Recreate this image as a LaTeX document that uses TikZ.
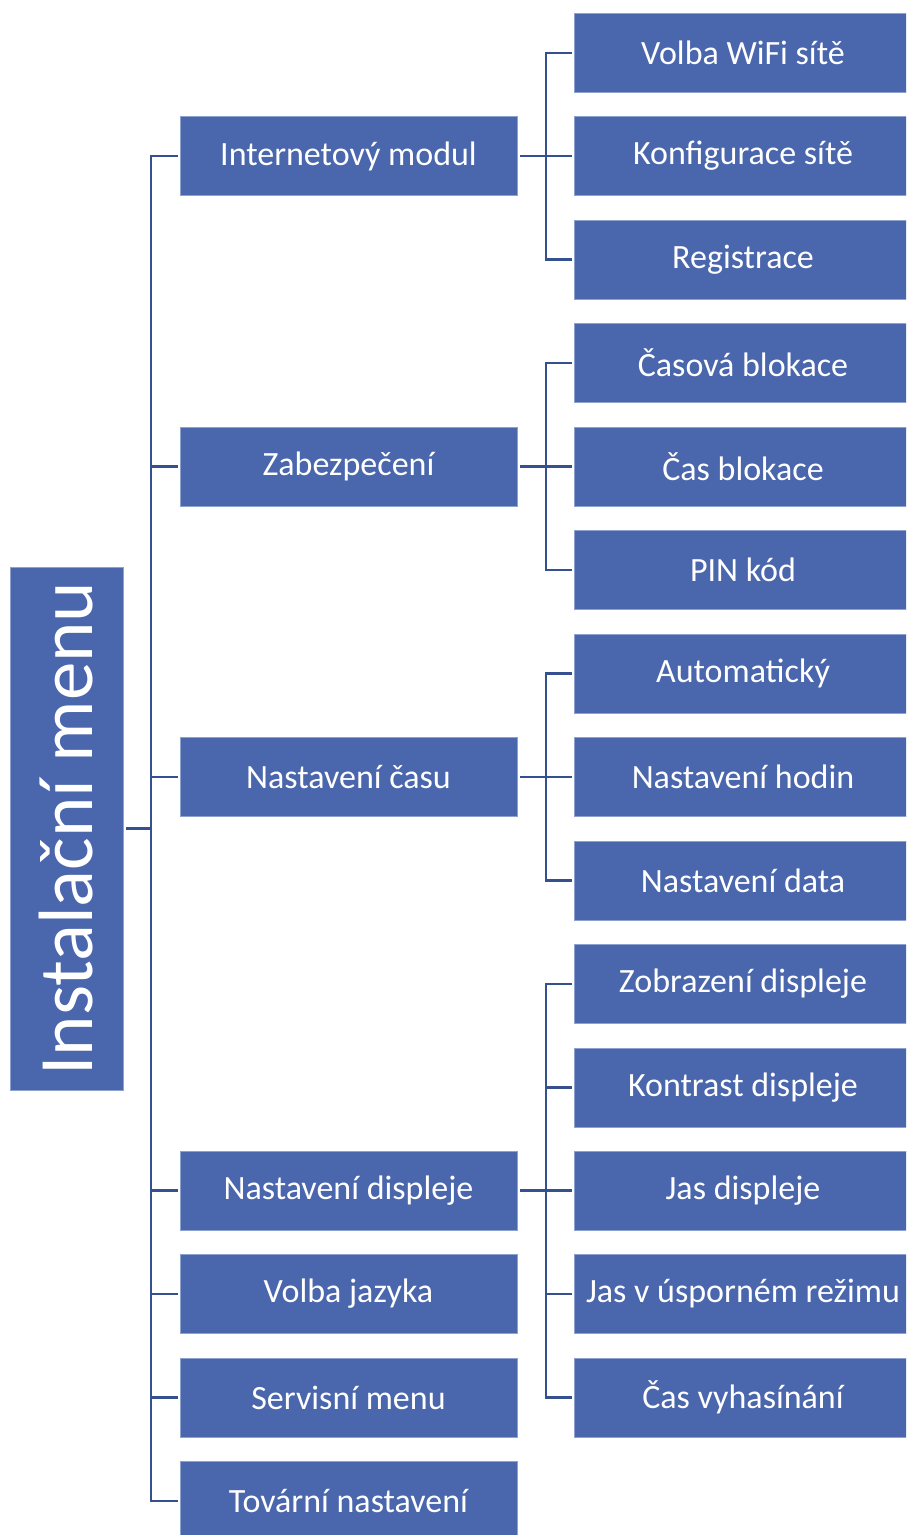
\documentclass[tikz,border=0pt]{standalone}
\usepackage{fontspec}
\setmainfont{Carlito}
\definecolor{boxblue}{HTML}{4A66AC}
\definecolor{lineblue}{HTML}{34508F}
\definecolor{edgeblue}{HTML}{8EA2CF}
\begin{document}
\begin{tikzpicture}[x=1pt,y=-1pt,
  box/.style={fill=boxblue,draw=edgeblue,line width=0.6pt,inner sep=0pt,
    minimum width=337pt,minimum height=79pt,text=white,
    font=\fontsize{34}{40}\selectfont},
  rootbox/.style={fill=boxblue,draw=edgeblue,line width=0.6pt,inner sep=0pt,
    minimum width=113pt,minimum height=523pt,text=white,
    font=\fontsize{77}{90}\selectfont},
  conn/.style={draw=lineblue,line width=2.2pt,shorten <=3pt,shorten >=2pt}]
\path[use as bounding box,clip] (0,0) rectangle (906,1535);
% root
\node[rootbox] (root) at (66.5,828.5) {\rotatebox{90}{Instalační menu}};
% level 1
\node[box] (im) at (348.5,156) {Internetový modul};
\node[box] (zb) at (348.5,466.5) {Zabezpečení};
\node[box] (nc) at (348.5,777) {Nastavení času};
\node[box] (nd) at (348.5,1190.5) {Nastavení displeje};
\node[box] (vj) at (348.5,1294) {Volba jazyka};
\node[box] (sm) at (348.5,1397.5) {Servisní menu};
\node[box] (tn) at (348.5,1501) {Tovární nastavení};
% level 2
\node[box] (a1) at (743,53) {Volba WiFi sítě};
\node[box] (a2) at (743,156) {Konfigurace sítě};
\node[box] (a3) at (743,259.5) {Registrace};
\node[box] (b1) at (743,363) {Časová blokace};
\node[box] (b2) at (743,466.5) {Čas blokace};
\node[box] (b3) at (743,570) {PIN kód};
\node[box] (c1) at (743,673.5) {Automatický};
\node[box] (c2) at (743,777) {Nastavení hodin};
\node[box] (c3) at (743,880.5) {Nastavení data};
\node[box] (d1) at (743,984) {Zobrazení displeje};
\node[box] (d2) at (743,1087.5) {Kontrast displeje};
\node[box] (d3) at (743,1190.5) {Jas displeje};
\node[box] (d4) at (743,1294) {Jas v úsporném režimu};
\node[box] (d5) at (743,1397.5) {Čas vyhasínání};
% connectors root -> level 1
\foreach \c in {im,zb,nc,nd,vj,sm,tn}
  \draw[conn] (root.east) -- ++(28,0) |- (\c.west);
% connectors level 1 -> level 2
\foreach \c in {a1,a2,a3}
  \draw[conn] (im.east) -- ++(29,0) |- (\c.west);
\foreach \c in {b1,b2,b3}
  \draw[conn] (zb.east) -- ++(29,0) |- (\c.west);
\foreach \c in {c1,c2,c3}
  \draw[conn] (nc.east) -- ++(29,0) |- (\c.west);
\foreach \c in {d1,d2,d3,d4,d5}
  \draw[conn] (nd.east) -- ++(29,0) |- (\c.west);
\end{tikzpicture}
\end{document}
